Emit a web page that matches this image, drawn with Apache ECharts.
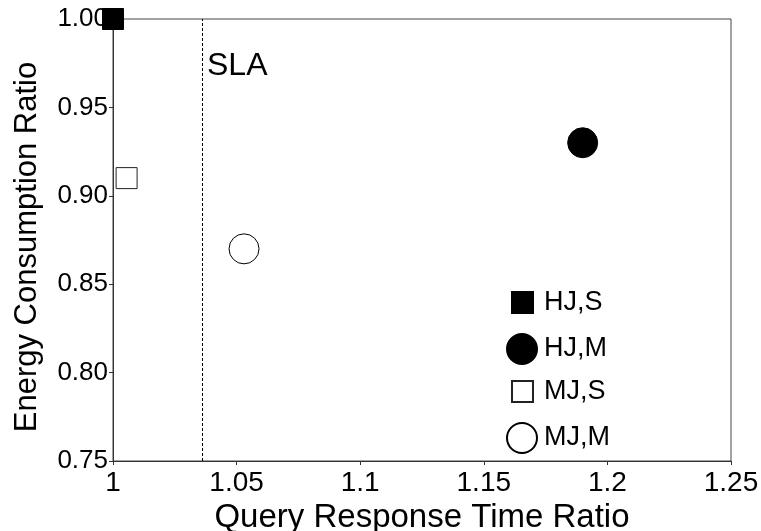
<!DOCTYPE html>
<html>
<head>
<meta charset="utf-8">
<script src="https://cdn.jsdelivr.net/npm/echarts@6/dist/echarts.min.js"></script>
<style>html,body{margin:0;padding:0;background:#fff}#c{width:761px;height:531px}</style>
</head>
<body>
<div id="c"></div>
<script>
const seriesNames = ['HJ,S', 'HJ,M', 'MJ,S', 'MJ,M'];
const xValues = [1.0, 1.19, 1.0055, 1.053];
const yValues = [1.0, 0.93, 0.91, 0.87];
const slaX = 1.036;
const xTicks = [1, 1.05, 1.1, 1.15, 1.2, 1.25];
const yTicks = [0.75, 0.80, 0.85, 0.90, 0.95, 1.00];

const FONT = '"Liberation Sans", Arial, sans-serif';
const styles = [
  {symbol: 'rect', size: 21, fill: '#000', border: '#000'},
  {symbol: 'circle', size: 30, fill: '#000', border: '#000'},
  {symbol: 'rect', size: 21, fill: '#fff', border: '#222'},
  {symbol: 'circle', size: 30, fill: '#fff', border: '#000'}
];

const series = seriesNames.map((n, i) => ({
  name: n,
  type: 'scatter',
  symbol: styles[i].symbol,
  symbolSize: styles[i].size,
  clip: false,
  itemStyle: {color: styles[i].fill, borderColor: styles[i].border, borderWidth: 1, opacity: 1},
  data: [[xValues[i], yValues[i]]],
  z: 5
}));
series.push({
  type: 'scatter', name: 'SLA', data: [], silent: true,
  markLine: {
    silent: true, symbol: ['none', 'none'], precision: 4,
    lineStyle: {color: '#000', type: [3, 2], width: 1},
    label: {show: false},
    data: [{xAxis: slaX}]
  }
});

const legendTops = [289, 333, 378, 422];
const legends = seriesNames.map((n, i) => ({
  data: [n],
  left: styles[i].symbol === 'rect' ? 511 : 506,
  top: legendTops[i],
  itemWidth: styles[i].size,
  itemHeight: styles[i].size,
  icon: styles[i].symbol,
  selectedMode: false,
  textStyle: {fontFamily: FONT, fontSize: 27, color: '#000', padding: [0, 0, 0, styles[i].symbol === 'rect' ? 6 : 2]},
  padding: 0
}));

const chart = echarts.init(document.getElementById('c'));
chart.setOption({
  animation: false,
  backgroundColor: '#fff',
  grid: {left: 113, right: 30, top: 19, bottom: 70, show: true, borderColor: '#444', borderWidth: 1,
    containLabel: false, outerBoundsMode: 'none'},
  xAxis: {
    type: 'value', min: xTicks[0], max: xTicks[xTicks.length - 1], interval: 0.05,
    name: 'Query Response Time Ratio', nameLocation: 'middle', nameGap: 30,
    nameTextStyle: {fontFamily: FONT, fontSize: 33, color: '#000', verticalAlign: 'top'},
    axisLine: {lineStyle: {color: '#333', width: 1}},
    axisTick: {show: true, length: 4, lineStyle: {color: '#333'}},
    axisLabel: {fontFamily: FONT, fontSize: 28, color: '#000', margin: 8,
      formatter: v => String(Math.round(v * 100) / 100)},
    splitLine: {show: false}
  },
  yAxis: {
    type: 'value', min: yTicks[0], max: yTicks[yTicks.length - 1], interval: 0.05,
    name: 'Energy Consumption Ratio', nameLocation: 'middle', nameGap: 70,
    nameTextStyle: {fontFamily: FONT, fontSize: 31, color: '#000', padding: [0, 14, 0, 0]},
    axisLine: {show: true, lineStyle: {color: '#333', width: 1}},
    axisTick: {show: true, length: 4, lineStyle: {color: '#333'}},
    axisLabel: {fontFamily: FONT, fontSize: 26, color: '#000', margin: 5,
      formatter: v => v.toFixed(2)},
    splitLine: {show: false}
  },
  legend: legends,
  graphic: [{type: 'text', left: 207, top: 50, style: {text: 'SLA', font: '32px ' + FONT, fill: '#000'}}],
  series: series
});
</script>
</body>
</html>
